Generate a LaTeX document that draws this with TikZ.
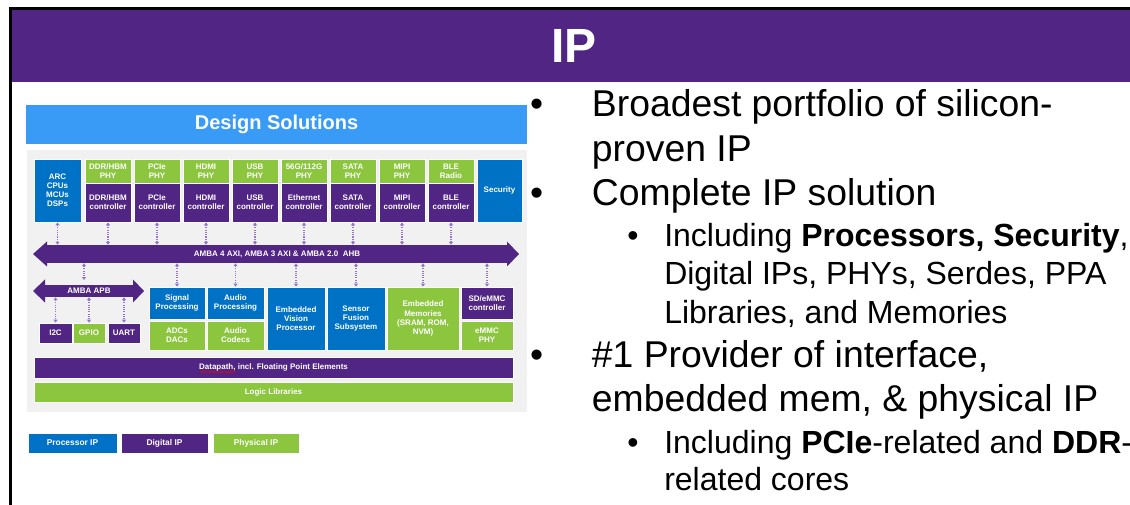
\documentclass[tikz,border=0pt]{standalone}
\usepackage{fontspec}
\setmainfont{Liberation Sans}
\usepackage{tikz}
\usetikzlibrary{arrows.meta,decorations.pathmorphing}

\definecolor{bandpurple}{RGB}{81,37,131}
\definecolor{digpurple}{RGB}{81,37,131}
\definecolor{phygreen}{RGB}{140,198,63}
\definecolor{procblue}{RGB}{0,114,198}
\definecolor{bannerblue}{RGB}{58,155,247}
\definecolor{panelgrey}{RGB}{241,241,241}
\definecolor{linkpurple}{RGB}{150,118,200}

% block from corner (x0,y0) to (x1,y1), in pixels
\newcommand{\ipbox}[7]{%
  \node[#1, minimum width={(#5-#3)*0.75pt}, minimum height={(#6-#4)*0.75pt}]
    (#2) at ({(#3+#5)/2},{(#4+#6)/2}) {#7};}

\tikzset{
  box/.style={draw=white, line width=0.6pt, inner sep=0pt, align=center,
    text=white, font=\bfseries\fontsize{6}{6.8}\selectfont},
  proc/.style={box, fill=procblue},
  dig/.style={box, fill=digpurple},
  phy/.style={box, fill=phygreen},
  bus/.style={fill=digpurple, inner sep=0pt, text=white,
    font=\bfseries\fontsize{6}{7}\selectfont},
  conn/.style={draw=linkpurple, line width=0.8pt, dash pattern=on 0.8pt off 0.9pt,
    {Triangle[width=3pt,length=2.2pt]}-{Triangle[width=3pt,length=2.2pt]}},
  bigline/.style={anchor=base west, inner sep=0pt, font=\fontsize{28}{33.5}\selectfont},
  smallline/.style={anchor=base west, inner sep=0pt, font=\fontsize{24}{28.7}\selectfont},
  bigdot/.style={anchor=base, inner sep=0pt, font=\fontsize{28}{33.5}\selectfont},
  smalldot/.style={anchor=base, inner sep=0pt, font=\fontsize{24}{28.7}\selectfont}
}

\begin{document}
\begin{tikzpicture}[x=0.75pt,y=-0.75pt]
\useasboundingbox (0,0) rectangle (1130,505);

% slide frame and title
\fill[bandpurple] (11.5,10) rectangle (1130,81.7);
\draw[line width=1.9pt] (10.3,505) -- (10.3,8.6) -- (1130,8.6);
\node[text=white, font=\bfseries\fontsize{36}{40}\selectfont] (title) at (574,46) {IP};

% diagram background
\ipbox{fill=bannerblue, inner sep=0pt, text=white, font=\bfseries\fontsize{15}{18}\selectfont}{banner}{26}{105}{527}{144}{Design Solutions}
\fill[panelgrey] (27,150) rectangle (527,412);

% top row
\ipbox{proc}{arc}{34}{159}{81}{222}{ARC\\CPUs\\MCUs\\DSPs}
\ipbox{phy}{phy1}{85}{159}{131}{183}{DDR/HBM\\PHY}
\ipbox{dig}{ctl1}{85}{183}{131}{222}{DDR/HBM\\controller}
\ipbox{phy}{phy2}{134}{159}{180}{183}{PCIe\\PHY}
\ipbox{dig}{ctl2}{134}{183}{180}{222}{PCIe\\controller}
\ipbox{phy}{phy3}{183}{159}{229}{183}{HDMI\\PHY}
\ipbox{dig}{ctl3}{183}{183}{229}{222}{HDMI\\controller}
\ipbox{phy}{phy4}{232}{159}{278}{183}{USB\\PHY}
\ipbox{dig}{ctl4}{232}{183}{278}{222}{USB\\controller}
\ipbox{phy}{phy5}{281}{159}{327}{183}{56G/112G\\PHY}
\ipbox{dig}{ctl5}{281}{183}{327}{222}{Ethernet\\controller}
\ipbox{phy}{phy6}{330}{159}{376}{183}{SATA\\PHY}
\ipbox{dig}{ctl6}{330}{183}{376}{222}{SATA\\controller}
\ipbox{phy}{phy7}{379}{159}{425}{183}{MIPI\\PHY}
\ipbox{dig}{ctl7}{379}{183}{425}{222}{MIPI\\controller}
\ipbox{phy}{phy8}{428}{159}{474}{183}{BLE\\Radio}
\ipbox{dig}{ctl8}{428}{183}{474}{222}{BLE\\controller}
\ipbox{proc}{sec}{477}{159}{522}{222}{Security}

% AXI bus
\ipbox{bus}{axi}{46.5}{245}{507.5}{263}{AMBA 4 AXI, AMBA 3 AXI \& AMBA 2.0\ \ AHB}
\fill[digpurple] (47,241.5) -- (33,254) -- (47,266.5) -- cycle;
\fill[digpurple] (507,241.5) -- (519,254) -- (507,266.5) -- cycle;

% APB bus
\ipbox{bus}{apb}{44.5}{285}{133.5}{297}{AMBA APB}
\fill[digpurple] (45,279.5) -- (33,291) -- (45,302.5) -- cycle;
\fill[digpurple] (133,279.5) -- (144,291) -- (133,302.5) -- cycle;
\coordinate (apbtap) at (84,280);

% peripherals
\ipbox{dig}{i2c}{39}{323}{72}{343}{I2C}
\ipbox{phy}{gpio}{73}{323}{105}{343}{GPIO}
\ipbox{dig}{uart}{108}{323}{140}{343}{UART}

% middle row
\ipbox{proc}{sig}{149}{287}{205}{319}{Signal\\Processing}
\ipbox{phy}{adc}{149}{321}{205}{350}{ADCs\\DACs}
\ipbox{proc}{aud}{207}{287}{264}{319}{Audio\\Processing}
\ipbox{phy}{codec}{207}{321}{264}{350}{Audio\\Codecs}
\ipbox{proc}{evp}{267}{287}{325}{350}{Embedded\\Vision\\Processor}
\ipbox{proc}{sfs}{327}{287}{385}{350}{Sensor\\Fusion\\Subsystem}
\ipbox{phy}{emem}{387}{287}{459}{350}{Embedded\\Memories\\(SRAM, ROM,\\NVM)}
\ipbox{dig}{sdc}{461}{287}{513}{319}{SD/eMMC\\controller}
\ipbox{phy}{emmc}{461}{321}{513}{350}{eMMC\\PHY}

% bottom bars
\ipbox{dig}{dpath}{34}{357}{513}{378}{Datapath, incl. Floating Point Elements}
\draw[red, line width=0.35pt, decorate, decoration={snake, amplitude=0.4pt, segment length=1.6pt}]
  (200,372) -- (236,372);
\ipbox{phy}{logic}{34}{382}{513}{402}{Logic Libraries}

% links to the buses
\draw[conn] (arc.south) -- (arc.south |- axi.north);
\draw[conn] (ctl1.south) -- (ctl1.south |- axi.north);
\draw[conn] (ctl2.south) -- (ctl2.south |- axi.north);
\draw[conn] (ctl3.south) -- (ctl3.south |- axi.north);
\draw[conn] (ctl4.south) -- (ctl4.south |- axi.north);
\draw[conn] (ctl5.south) -- (ctl5.south |- axi.north);
\draw[conn] (ctl6.south) -- (ctl6.south |- axi.north);
\draw[conn] (ctl7.south) -- (ctl7.south |- axi.north);
\draw[conn] (ctl8.south) -- (ctl8.south |- axi.north);
\draw[conn] (apbtap |- axi.south) -- (apbtap);
\draw[conn] (i2c.north |- apb.south) -- (i2c.north);
\draw[conn] (gpio.north |- apb.south) -- (gpio.north);
\draw[conn] (uart.north |- apb.south) -- (uart.north);
\draw[conn] (sig.north |- axi.south) -- (sig.north);
\draw[conn] (aud.north |- axi.south) -- (aud.north);
\draw[conn] (evp.north |- axi.south) -- (evp.north);
\draw[conn] (sfs.north |- axi.south) -- (sfs.north);
\draw[conn] (emem.north |- axi.south) -- (emem.north);
\draw[conn] (sdc.north |- axi.south) -- (sdc.north);

% legend
\ipbox{proc, font=\bfseries\fontsize{6.3}{7}\selectfont}{lgproc}{28}{433}{117}{453}{Processor IP}
\ipbox{dig, font=\bfseries\fontsize{6.3}{7}\selectfont}{lgdig}{121}{433}{208}{453}{Digital IP}
\ipbox{phy, font=\bfseries\fontsize{6.3}{7}\selectfont}{lgphy}{213}{433}{299}{453}{Physical IP}

% bullet text
\node[bigdot] (d1) at (536.7,116.7) {•};
\node[bigline] (l1) at (591.7,116.7) {Broadest portfolio of silicon-};
\node[bigline] (l2) at (591.7,161.7) {proven IP};
\node[bigdot] (d2) at (536.7,206) {•};
\node[bigline] (l3) at (591.7,206) {Complete IP solution};
\node[smalldot] (d3) at (633,246.7) {•};
\node[smallline] (l4) at (664,246.7) {Including \textbf{Processors, Security},};
\node[smallline] (l5) at (664,285) {Digital IPs, PHYs, Serdes, PPA};
\node[smallline] (l6) at (664,323.3) {Libraries, and Memories};
\node[bigdot] (d4) at (536.7,367.3) {•};
\node[bigline] (l7) at (591.7,367.3) {\#1 Provider of interface,};
\node[bigline] (l8) at (591.7,411.7) {embedded mem, \& physical IP};
\node[smalldot] (d5) at (633,453.3) {•};
\node[smallline] (l9) at (664,453.3) {Including \textbf{PCIe}-related and \textbf{DDR}-};
\node[smallline] (l10) at (664,490) {related cores};
\end{tikzpicture}
\end{document}
